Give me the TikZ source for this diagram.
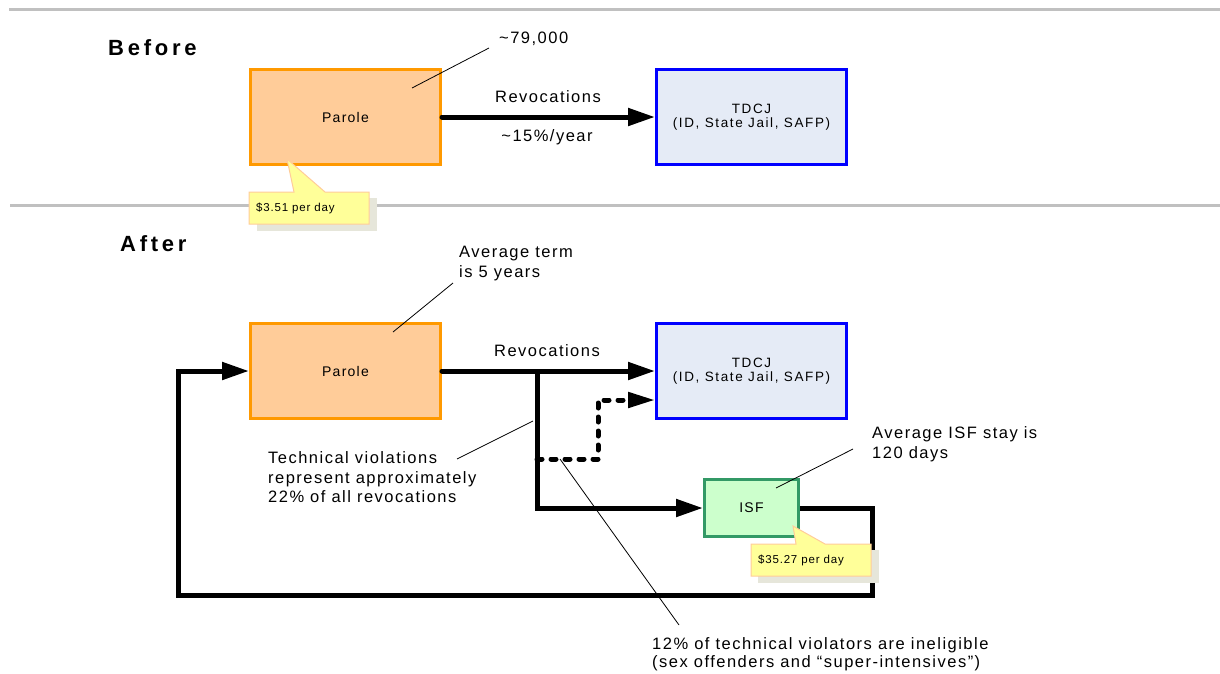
\documentclass[tikz,border=0pt]{standalone}
\usepackage{fontspec}
\setmainfont{Liberation Sans}
\newfontfamily\lbl[LetterSpace=9]{Liberation Sans}
\newfontfamily\boxf[LetterSpace=12]{Liberation Sans}
\newfontfamily\hdr[LetterSpace=17]{Liberation Sans}
\newfontfamily\smallf[LetterSpace=7]{Liberation Sans}
\usetikzlibrary{arrows.meta}
\definecolor{parolefill}{HTML}{FFCC99}
\definecolor{paroledraw}{HTML}{FF9900}
\definecolor{tdcjfill}{HTML}{E5EBF6}
\definecolor{tdcjdraw}{HTML}{0000FF}
\definecolor{isffill}{HTML}{CCFFCC}
\definecolor{isfdraw}{HTML}{339966}
\definecolor{notefill}{HTML}{FFFF99}
\definecolor{notedraw}{HTML}{FFCC99}
\definecolor{noteshadow}{HTML}{E6E6DA}
\definecolor{rule}{HTML}{C0C0C0}
\tikzset{
  box/.style={draw, line width=3pt, inner sep=0pt, minimum width=190pt, minimum height=95pt,
    font=\boxf\fontsize{13.5}{15.5}\selectfont, align=center},
  parolebox/.style={box, fill=parolefill, draw=paroledraw, font=\lbl\fontsize{14}{16}\selectfont},
  tdcjbox/.style={box, fill=tdcjfill, draw=tdcjdraw},
  isfbox/.style={box, fill=isffill, draw=isfdraw, minimum width=94pt, minimum height=57pt, font=\lbl\fontsize{14}{16}\selectfont},
  label/.style={inner sep=0pt, font=\lbl\fontsize{16.5}{19.5}\selectfont, align=left},
  heading/.style={inner sep=0pt, anchor=west, font=\hdr\bfseries\fontsize{22}{26}\selectfont},
  notetext/.style={inner sep=0pt, anchor=west, font=\smallf\fontsize{11.5}{13}\selectfont},
  tip/.style={-{Triangle[length=27pt,width=17pt]}},
  flow/.style={line width=5pt, line cap=round, tip},
  dflow/.style={line width=5pt, line cap=round, dash pattern=on 5pt off 9pt, -{Triangle[length=27pt,width=15pt]}},
  pointer/.style={line width=0.8pt},
  sep/.style={draw=rule, line width=3pt},
  note/.style={fill=notefill, draw=notedraw, line width=1pt},
  shadow/.style={fill=noteshadow}
}
\begin{document}
\begin{tikzpicture}[x=1pt,y=-1pt]
\useasboundingbox (0,0) rectangle (1220,673);
% separators
\coordinate (s1a) at (9,9); \coordinate (s1b) at (1220,9);
\coordinate (s2a) at (10,205); \coordinate (s2b) at (1220,205);
\draw[sep] (s1a) -- (s1b);
\draw[sep] (s2a) -- (s2b);

% headings
\node[heading] (before) at (108,48) {Before};
\node[heading] (after) at (120,244) {After};

% ---------- Before ----------
\node[parolebox] (p1) at (345.5,117) {Parole};
\node[tdcjbox] (t1) at (751.5,117) {TDCJ\\[-1pt](ID, State Jail, SAFP)};
\draw[flow] (p1.east) -- (t1.west);
\node[label, anchor=center] (rev1) at (548,97) {Revocations};
\node[label, anchor=center] (pct1) at (547,137) {\textasciitilde15\%/year};
\node[label, anchor=west] (n79) at (499,39) {\textasciitilde79,000};
\coordinate (c1a) at (412,88); \coordinate (c1b) at (489,48);
\draw[pointer] (c1a) -- (c1b);

% note $3.51
\fill[shadow] (257,198) rectangle (377,231);
\draw[note] (249,192) -- (294,192) -- (287,159) -- (325,192) -- (369,192) -- (369,224) -- (249,224) -- cycle;
\node[notetext] (cost1) at (256,208.5) {\$3.51 per day};

% ---------- After ----------
\node[parolebox] (p2) at (345.5,371) {Parole};
\node[tdcjbox] (t2) at (751.5,371) {TDCJ\\[-1pt](ID, State Jail, SAFP)};
\node[isfbox] (isf) at (751.5,508) {ISF};

\coordinate (j) at (537,371);
\coordinate (d1) at (537,459);
\coordinate (d2) at (598,400);
\coordinate (l1) at (872,595);
\coordinate (l2) at (178,595);

\draw[flow] (p2.east) -- (t2.west);
\draw[line width=5pt, tip] (j) |- (isf.west);
\draw[dflow] (d1) -| (d2) -- (d2 -| t2.west);
\draw[line width=5pt, tip] (isf.east) -| (l1) -- (l2) |- (p2.west);

\node[label, anchor=center] (rev2) at (547,351) {Revocations};
\node[label, anchor=west] (avgterm) at (459,263.5) {Average term\\is 5 years};
\coordinate (c2a) at (393,332); \coordinate (c2b) at (453,283);
\draw[pointer] (c2a) -- (c2b);

\node[label, anchor=west] (tech) at (268,477.5) {Technical violations\\represent approximately\\22\% of all revocations};
\coordinate (c3a) at (457,459); \coordinate (c3b) at (533,421);
\draw[pointer] (c3a) -- (c3b);

\node[label, anchor=west] (isfstay) at (872,444) {Average ISF stay is\\120 days};
\coordinate (c5a) at (776,488); \coordinate (c5b) at (853,449);
\draw[pointer] (c5a) -- (c5b);

\coordinate (c4a) at (560,459); \coordinate (c4b) at (679,625);
\draw[pointer] (c4a) -- (c4b);
\node[label, anchor=west, font=\lbl\fontsize{16.5}{18}\selectfont] (inel) at (652,654) {12\% of technical violators are ineligible\\(sex offenders and “super-intensives”)};

% note $35.27
\fill[shadow] (758,550) rectangle (879,583);
\draw[note] (751,544) -- (796,544) -- (793,526) -- (825,544) -- (871,544) -- (871,576) -- (751,576) -- cycle;
\node[notetext] (cost2) at (758,560) {\$35.27 per day};
\end{tikzpicture}
\end{document}
